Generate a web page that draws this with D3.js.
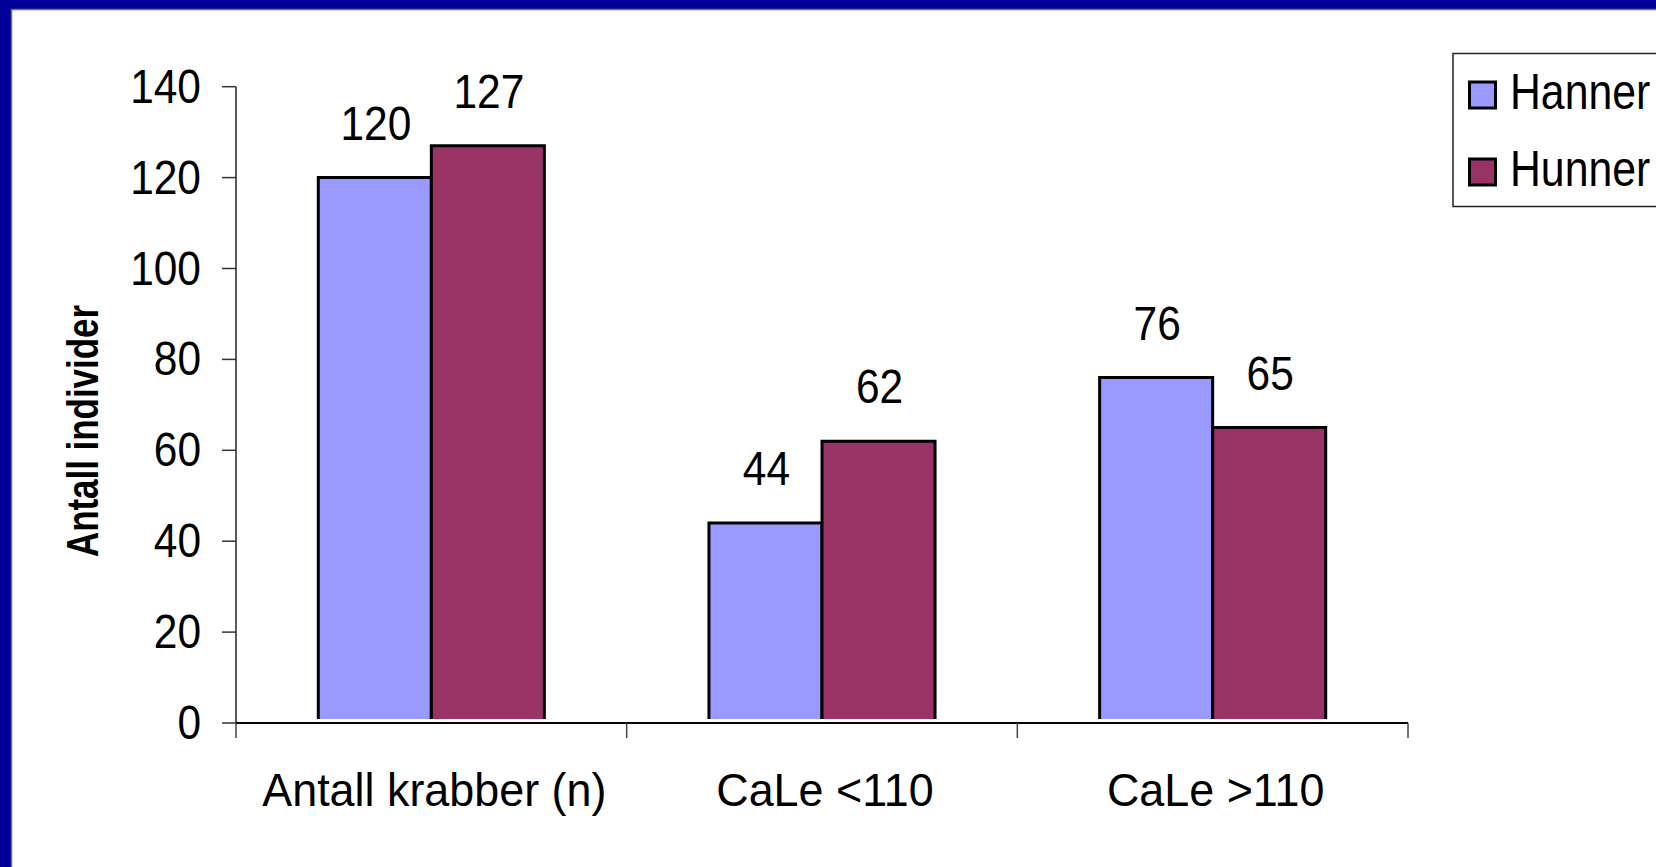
<!DOCTYPE html>
<html>
<head>
<meta charset="utf-8">
<script src="https://cdn.jsdelivr.net/npm/d3@7"></script>
<style>
  html, body { margin: 0; padding: 0; background: #000099; overflow: hidden; }
  svg { display: block; }
  text { font-family: "Liberation Sans", Arial, sans-serif; fill: #000; }
</style>
</head>
<body>
<svg id="chart" width="1656" height="867"></svg>
<script>
// Crab counts by group and sex
const categories = ["Antall krabber (n)", "CaLe <110", "CaLe >110"];
const seriesNames = ["Hanner", "Hunner"];
const hanner = [120, 44, 76];
const hunner = [127, 62, 65];
const yTicks = [0, 20, 40, 60, 80, 100, 120, 140];
const yTitle = "Antall individer";

const colors = { Hanner: "#9999FF", Hunner: "#993366" };
const values = { Hanner: hanner, Hunner: hunner };

const W = 1656, H = 867;
const svg = d3.select("#chart");

// Slide frame: blue border with white panel
svg.append("rect").attr("x", 0).attr("y", 0).attr("width", W).attr("height", H).attr("fill", "#000099");
svg.append("rect").attr("x", 11.5).attr("y", 9.5).attr("width", W).attr("height", H)
  .attr("fill", "#fff").attr("stroke", "#6f6f6f").attr("stroke-width", 1.5);

const plot = { left: 236, right: 1408, top: 86.7, bottom: 723 };

const x = d3.scaleBand().domain(categories).range([plot.left, plot.right]).paddingInner(0).paddingOuter(0);
const x1 = d3.scaleBand().domain(seriesNames).range([0, x.bandwidth()]).paddingInner(0).paddingOuter(0.728);
const y = d3.scaleLinear().domain([0, 140]).range([plot.bottom, plot.top]);

// Helper: horizontally condensed text
function label(parent, str, tx, ty, opts) {
  const g = parent.append("g")
    .attr("transform", `translate(${tx},${ty}) scale(${opts.sx},1)` + (opts.rotate ? ` rotate(${opts.rotate})` : ""));
  g.append("text")
    .attr("text-anchor", opts.anchor || "middle")
    .attr("font-size", opts.size)
    .attr("font-weight", opts.weight || "normal")
    .text(str);
  return g;
}

// Bars (fill stops just above the baseline, outline on top and sides)
const gap = 4;
const groups = svg.append("g");
categories.forEach((c, i) => {
  seriesNames.forEach(s => {
    const v = values[s][i];
    const bx = x(c) + x1(s), bw = x1.bandwidth();
    const top = y(v), base = y(0) - gap;
    groups.append("rect")
      .attr("x", bx).attr("y", top).attr("width", bw).attr("height", base - top)
      .attr("fill", colors[s]);
    groups.append("path")
      .attr("d", `M${bx},${base} L${bx},${top} L${bx + bw},${top} L${bx + bw},${base}`)
      .attr("fill", "none").attr("stroke", "#000").attr("stroke-width", 3)
      .attr("stroke-linejoin", "miter");
  });
});

// Y axis
const yAxis = svg.append("g");
yAxis.append("line").attr("x1", plot.left).attr("x2", plot.left)
  .attr("y1", y(140)).attr("y2", y(0)).attr("stroke", "#222").attr("stroke-width", 1.5);
yTicks.forEach(t => {
  yAxis.append("line").attr("x1", plot.left - 14).attr("x2", plot.left)
    .attr("y1", y(t)).attr("y2", y(t)).attr("stroke", "#333").attr("stroke-width", 1.5);
  label(yAxis, String(t), plot.left - 35, y(t) + 16, { sx: 0.885, size: 48, anchor: "end" });
});

// X axis
const xAxis = svg.append("g");
xAxis.append("line").attr("x1", plot.left).attr("x2", plot.right)
  .attr("y1", y(0)).attr("y2", y(0)).attr("stroke", "#000").attr("stroke-width", 2);
const xTickPos = categories.map(c => x(c)).concat([x(categories[categories.length - 1]) + x.bandwidth()]);
xTickPos.forEach(px => {
  xAxis.append("line").attr("x1", px).attr("x2", px)
    .attr("y1", y(0)).attr("y2", y(0) + 15).attr("stroke", "#444").attr("stroke-width", 1.5);
});
categories.forEach(c => {
  label(xAxis, c, x(c) + x.bandwidth() / 2 + 3, 806, { sx: 0.955, size: 47 });
});

// Value labels
categories.forEach((c, i) => {
  seriesNames.forEach(s => {
    const v = values[s][i];
    label(svg, String(v), x(c) + x1(s) + x1.bandwidth() / 2 + 1, y(v) - 38, { sx: 0.885, size: 48 });
  });
});

// Y title
label(svg, yTitle, 98, 431, { sx: 1, size: 45, weight: "bold", rotate: -90 })
  .select("text").attr("textLength", 252).attr("lengthAdjust", "spacingAndGlyphs");

// Legend
const legend = svg.append("g");
legend.append("rect").attr("x", 1453).attr("y", 53.5).attr("width", 260).attr("height", 153)
  .attr("fill", "#fff").attr("stroke", "#222").attr("stroke-width", 1.5);
seriesNames.forEach((s, i) => {
  const ly = 82 + i * 77;
  legend.append("rect").attr("x", 1469.5).attr("y", ly).attr("width", 26).attr("height", 26)
    .attr("fill", colors[s]).attr("stroke", "#000").attr("stroke-width", 3);
  label(legend, s, 1510, ly + 27, { sx: 0.855, size: 50, anchor: "start" });
});
</script>
</body>
</html>
